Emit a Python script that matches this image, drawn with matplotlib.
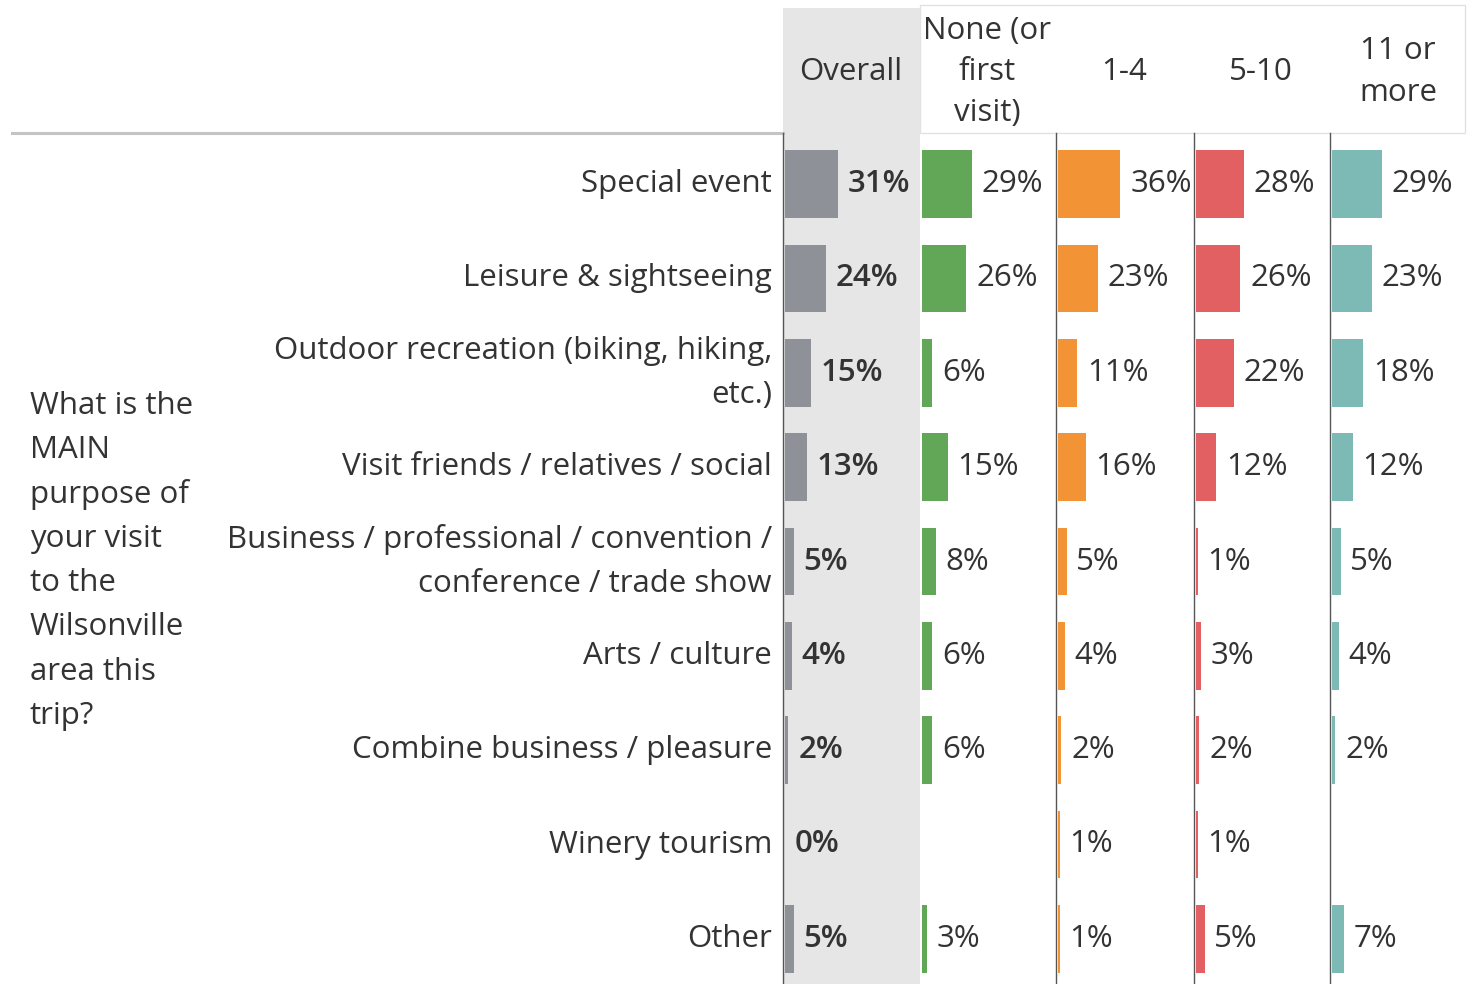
import matplotlib.pyplot as plt
from matplotlib.patches import Rectangle
from matplotlib.lines import Line2D

purposes = ['Special event', 'Leisure & sightseeing',
            'Outdoor recreation (biking, hiking,\netc.)',
            'Visit friends / relatives / social',
            'Business / professional / convention /\nconference / trade show',
            'Arts / culture', 'Combine business / pleasure',
            'Winery tourism', 'Other']
groups = ['Overall', 'None (or\nfirst\nvisit)', '1-4', '5-10', '11 or\nmore']

overall = [31, 24, 15, 13, 5, 4, 2, 0, 5]
none_first = [29, 26, 6, 15, 8, 6, 6, None, 3]
visits_1_4 = [36, 23, 11, 16, 5, 4, 2, 1, 1]
visits_5_10 = [28, 26, 22, 12, 1, 3, 2, 1, 5]
visits_11 = [29, 23, 18, 12, 5, 4, 2, None, 7]
series = [overall, none_first, visits_1_4, visits_5_10, visits_11]

colors = ['#8a8d94', '#59a14f', '#f28e2b', '#e15759', '#76b7b2']
question = 'What is the\nMAIN\npurpose of\nyour visit\nto the\nWilsonville\narea this\ntrip?'

plt.rcParams['font.family'] = ['Open Sans', 'DejaVu Sans']
TXT = '#333333'
FS = 22.5
W, H = 1470, 984


def fx(x):
    return x / W


def fy(y):
    return 1 - y / H


def lines(x, yc, text, spacing, fs=FS, **kw):
    parts = text.split('\n')
    n = len(parts)
    for k, p in enumerate(parts):
        y = yc + (k - (n - 1) / 2) * spacing
        fig.text(fx(x), fy(y), p, va='center', color=TXT, fontsize=fs, **kw)


fig = plt.figure(figsize=(14.7, 9.84), dpi=100)

# grey band behind the Overall column
fig.patches.append(Rectangle((fx(783), 0), fx(920) - fx(783), fy(8), transform=fig.transFigure,
                             facecolor='#e6e6e6', edgecolor='none', zorder=-5))
# header box and separators
fig.patches.append(Rectangle((fx(920), fy(133)), fx(1465) - fx(920), fy(5) - fy(133),
                             transform=fig.transFigure, facecolor='none',
                             edgecolor='#e2e2e2', lw=1, zorder=-4))
fig.add_artist(Line2D([fx(12), fx(783)], [fy(133), fy(133)], color='#c4c4c4', lw=2.2))

edges = [783, 920, 1056, 1194, 1330, 1468]
top, bottom = 137, 986
for i, vals in enumerate(series):
    x0 = edges[i] + 2
    ax = fig.add_axes([fx(x0), fy(bottom), fx(edges[i + 1]) - fx(x0), fy(top) - fy(bottom)])
    ax.patch.set_alpha(0)
    ys = [j for j, v in enumerate(vals) if v is not None]
    vs = [v for v in vals if v is not None]
    ax.barh(ys, vs, height=0.72, color=colors[i], alpha=0.95)
    for y, v in zip(ys, vs):
        ax.annotate(f'{v}%', (v, y), xytext=(7, 0), textcoords='offset points',
                    va='center', ha='left', fontsize=FS, color=TXT,
                    fontweight='semibold' if i == 0 else 'normal')
    ax.set_xlim(0, 78.5)
    ax.set_ylim(len(purposes) - 0.5, -0.5)
    ax.set_xticks([])
    ax.set_yticks([])
    for s in ax.spines.values():
        s.set_visible(False)
    if i != 1:
        fig.add_artist(Line2D([fx(edges[i]), fx(edges[i])], [fy(133), 0], color='#555555', lw=1))

# column headers
hdr_x = [851, 987, 1124, 1261, 1398]
hdr_sp = [40, 40.5, 40, 40, 42]
for x, g, sp in zip(hdr_x, groups, hdr_sp):
    lines(x, 72, g, sp, ha='center')

# row labels
row_h = (bottom - top) / len(purposes)
for j, p in enumerate(purposes):
    yc = top + (j + 0.5) * row_h
    lines(772, yc, p, 44, ha='right')

# question
lines(30, 561, question, 44.3, ha='left')

fig.savefig('out.png', dpi=100, facecolor='white')
